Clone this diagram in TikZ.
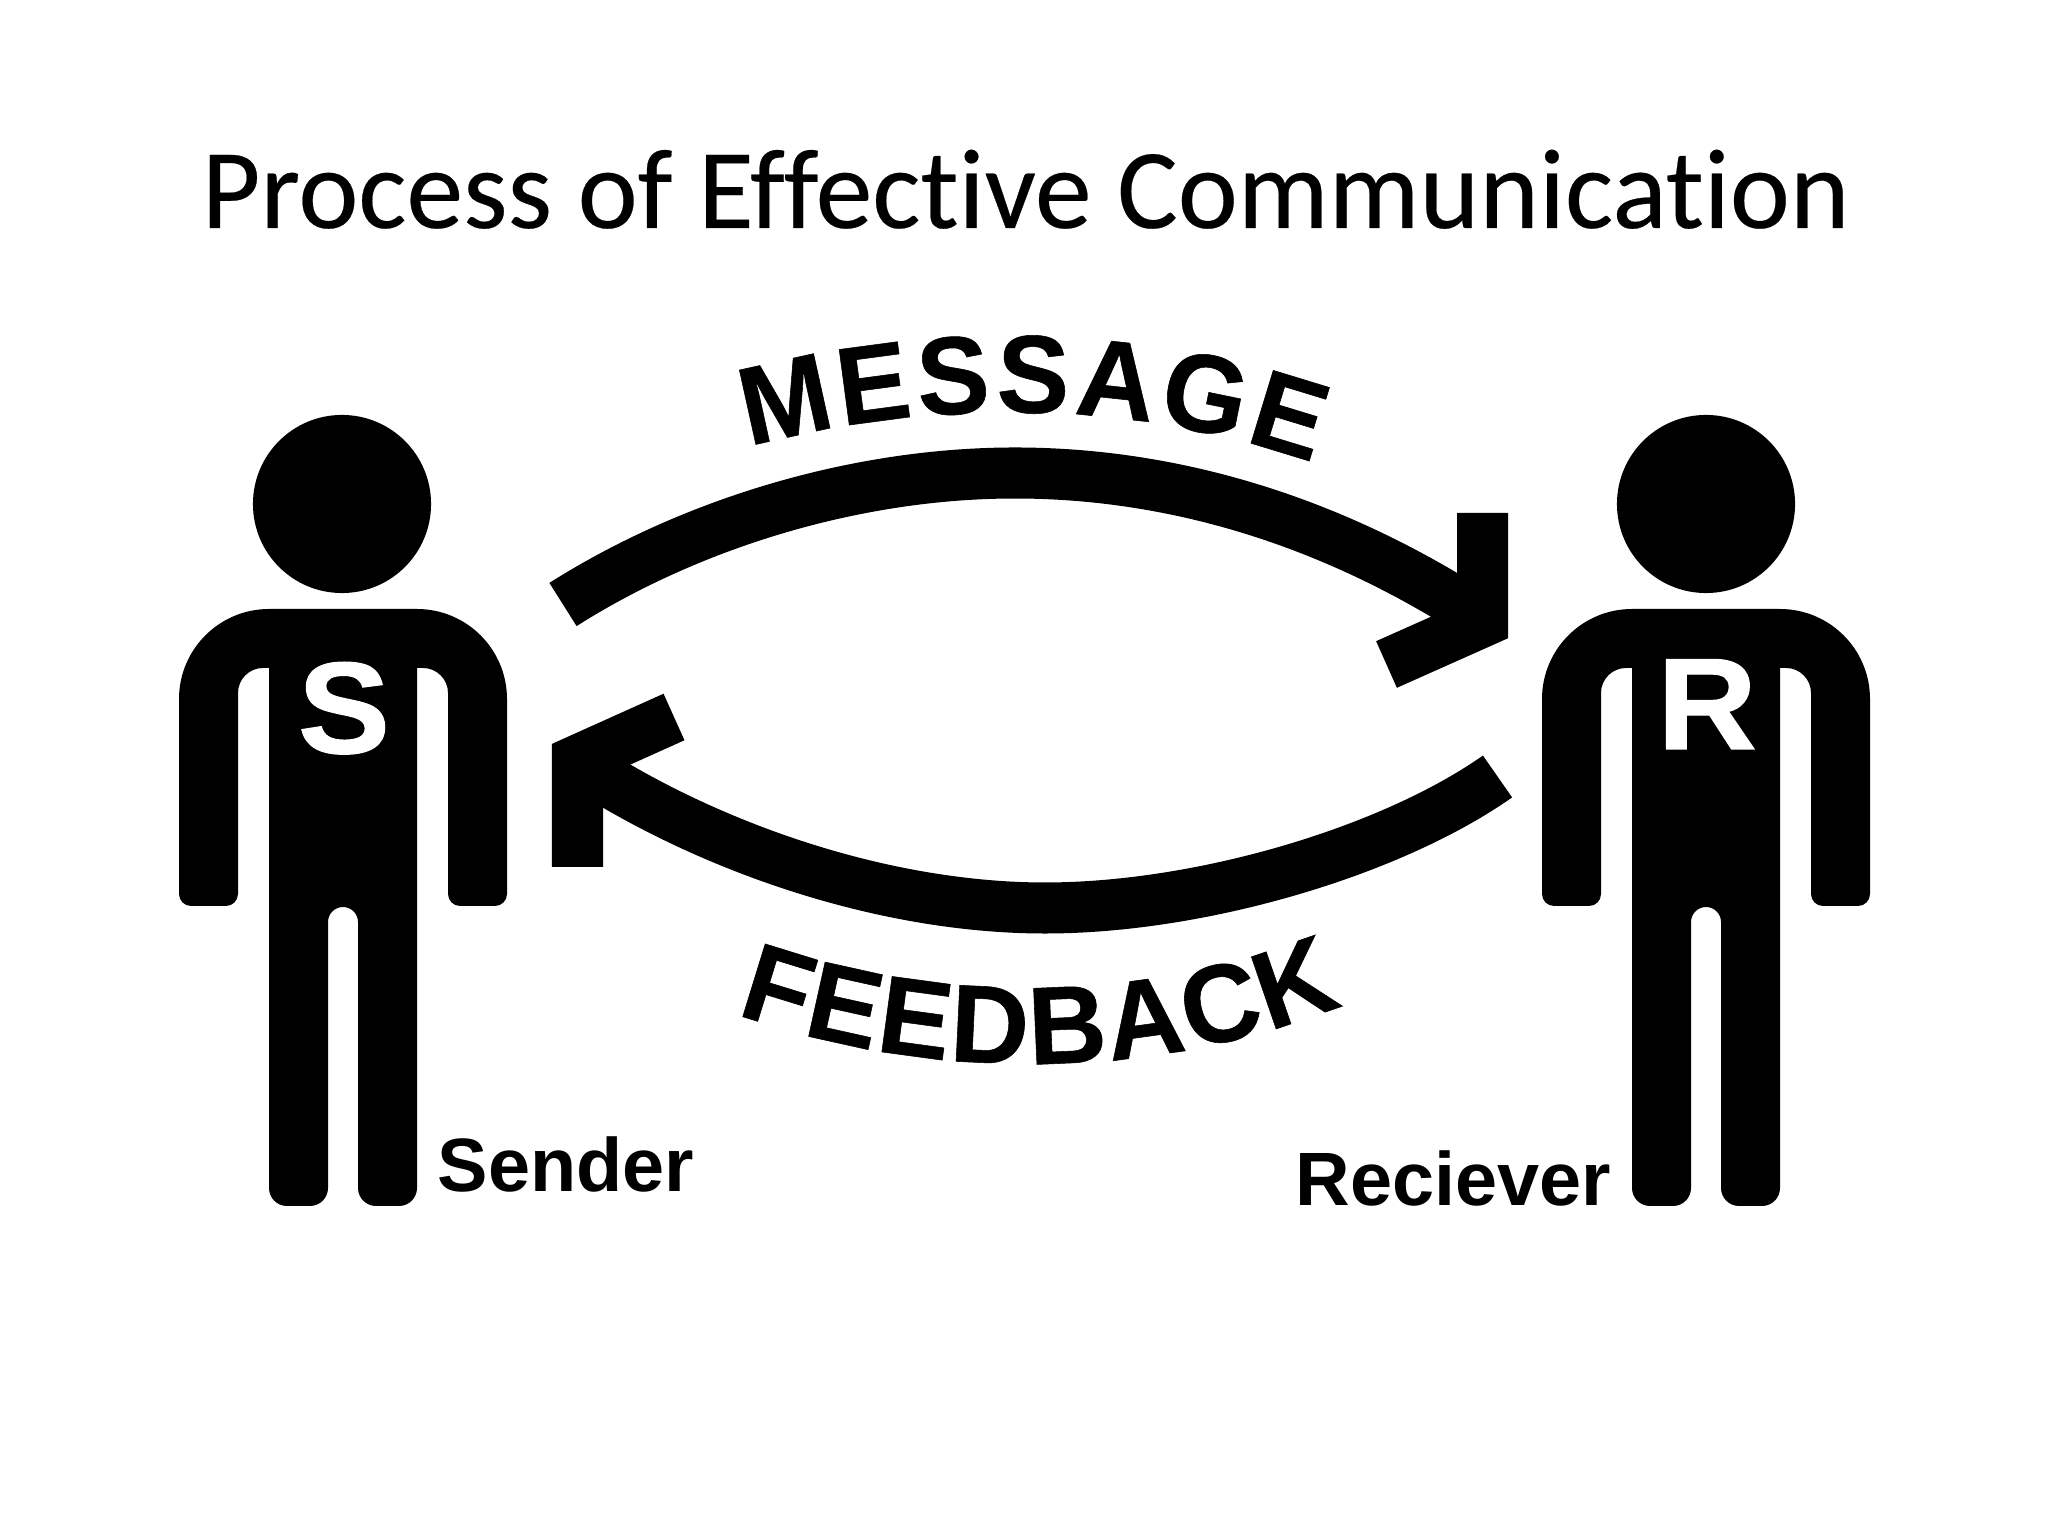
\documentclass[tikz,border=0pt]{standalone}
\usepackage{fontspec}
\setmainfont{Carlito}[Ligatures=NoCommon, FakeBold=0.2]
\setsansfont{Liberation Sans}
\newfontfamily\arcfamily[BoldFeatures={FakeBold=0.5, FakeStretch=0.98}]{Liberation Sans}
\newfontfamily\badgefamily[BoldFeatures={FakeBold=1, FakeStretch=1.06}]{Liberation Sans}
\usetikzlibrary{shapes.geometric, positioning, calc, decorations.text}
\newcommand{\arcfont}{\fontsize{31.5}{31.5}\selectfont\arcfamily\bfseries}
\tikzstyle{titlebox} = [font=\fontsize{32.35}{32.35}\selectfont, anchor=base west, inner sep=0pt]
\tikzstyle{head} = [circle, fill=black, minimum size=1.78cm, inner sep=0pt]
\tikzstyle{badge} = [text=white, font=\fontsize{37}{37}\selectfont\badgefamily\bfseries, anchor=base, inner sep=0pt]
\tikzstyle{caption} = [font=\fontsize{21.5}{21.5}\selectfont\sffamily\bfseries, anchor=base west, inner sep=0pt]
\tikzstyle{flow} = [line width=0.51cm, line join=miter]
\tikzset{
	person/.pic={
		\fill[rounded corners=0.18cm] (-74,500) -- (-74,330) -- (-15,330) [rounded corners=0.15cm] -- (-15,629) -- (15,629) [rounded corners=0.18cm] -- (15,330) -- (74,330) [sharp corners] -- (74,868) [rounded corners=0.25cm] -- (105,868) [rounded corners=0.12cm] -- (105,630) -- (164,630) [rounded corners=0.9cm] -- (164,927) -- (-164,927) [rounded corners=0.12cm] -- (-164,630) -- (-105,630) [rounded corners=0.25cm] -- (-105,868) [sharp corners] -- (-74,868) -- cycle;
	}
}

\begin{document}
\begin{tikzpicture}[x=0.01cm, y=0.01cm]
			\useasboundingbox (0,0) rectangle (2048,1536);

			\node (title) [titlebox] at (201,1308) {Process of Effective Communication};

			\node (shead) [head] at (342,1032) {};
			\node (rhead) [head] at (1706,1032) {};
			\pic (sbody) at (343,0) {person};
			\pic (rbody) at (1706,0) {person};

			\node (sletter) [badge] at (344,783) {S};
			\node (rletter) [badge] at (1707,787) {R};

			\node (sender) [caption] at (437,344) {Sender};
			\node (reciever) [caption] at (1295,330) {Reciever};

			\coordinate (msgtail) at (563,931.5);
			\coordinate (msgtop) at (1015,1063);
			\coordinate (msgend) at (1475,922);
			\coordinate (msgup) at (1482.5,1023);
			\coordinate (msgtip) at (1482.5,914.3);
			\coordinate (msgdown) at (1386.5,871.5);

			\coordinate (fbtail) at (1497.5,759.5);
			\coordinate (fbbottom) at (1045,628);
			\coordinate (fbend) at (590,766);
			\coordinate (fbup) at (674,819);
			\coordinate (fbtip) at (577.5,775.6);
			\coordinate (fbdown) at (577.5,669);

			\draw [flow] (msgtail) .. controls (690,1012) and (855,1063) .. (msgtop) .. controls (1150,1063) and (1310,1028) .. (msgend);
			\draw [flow] (msgup) -- (msgtip) -- (msgdown);
			\draw [flow] (fbtail) .. controls (1390,684) and (1200,628) .. (fbbottom) .. controls (890,628) and (720,684) .. (fbend);
			\draw [flow] (fbup) -- (fbtip) -- (fbdown);

			\path [decorate, decoration={text along path, text={|\arcfont|MESSAGE}, text align=fit to path}] (749,1089) .. controls (930,1137.5) and (1130,1137.5) .. (1313,1073);
			\path [decorate, decoration={text along path, text={|\arcfont|FEEDBACK}, text align=fit to path}] (736,522) .. controls (930,454) and (1150,454) .. (1343,531);
\end{tikzpicture}
\end{document}
